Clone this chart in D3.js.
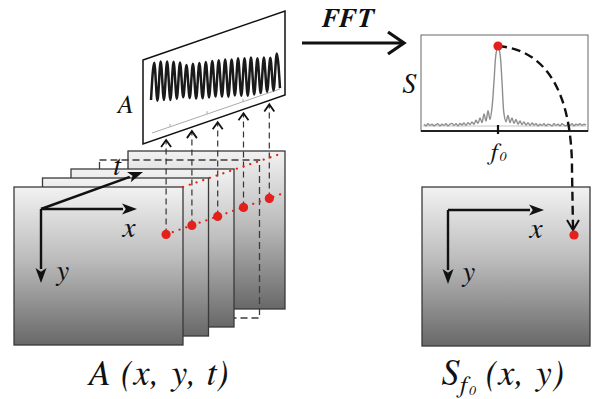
<!DOCTYPE html>
<html><head><meta charset="utf-8">
<script src="https://cdn.jsdelivr.net/npm/d3@7"></script>
<style>body{margin:0;background:#fff}svg{display:block}</style>
</head><body>
<script>
// ---------- data ----------
const frameIndex = [0, 1, 2, 3, 4];
const wavePeaks   = [0.95, 1.0, 0.98, 0.95, 0.9, 0.75, 0.8, 0.82, 0.85, 0.88, 0.9, 0.92, 0.9, 0.95, 0.93, 0.95, 0.9, 0.92, 0.88, 1.08];
const waveTroughs = [-0.95, -1.0, -0.98, -1.0, -0.95, -0.9, -0.95, -1.0, -1.0, -0.98, -0.95, -0.97, -1.0, -0.95, -0.98, -1.0, -0.95, -0.9, -0.85, -0.8];
const spectrum = [1,-1,1.5,-0.5,1,-1,0.5,1.5,-1,1,-0.5,1.5,-1,1,2,-0.5,1.5,-1,2,0,2.5,
  -0.5,3,0.5,4,1,6,2,9,3,14,5,18,7,22,55,90,100,90,55,14,4,12,3,9,2,7,1,5,0.5,4,0,3,-0.5,2.5,
  0,1.5,-1,1,-0.5,1.5,-1,1,0.5,-1,1.5,-0.5,1,-1,1.5,0,-1,1,-0.5,1.5,-1,1,0,1.5,-0.5,1,0];
const peakIndex = 37;
const axisLabels = ["x", "y", "t"];
const titleLeft = "A (x, y, t)";
const titleRight = ["S", "f", "0", " (x, y)"];
const fftLabel = "FFT";

// ---------- setup ----------
const W = 592, H = 399;
const FONT = '"FreeSerif","Liberation Serif","Times New Roman",serif';
const svg = d3.select("body").append("svg").attr("width", W).attr("height", H)
  .style("background", "#fff");
const defs = svg.append("defs");
const grad = defs.append("linearGradient").attr("id", "g").attr("x1", 0).attr("y1", 0).attr("x2", 0).attr("y2", 1);
grad.append("stop").attr("offset", 0).attr("stop-color", "#f2f2f2");
grad.append("stop").attr("offset", 0.45).attr("stop-color", "#bdbdbd");
grad.append("stop").attr("offset", 1).attr("stop-color", "#686868");

const RED = "#e3201b";

const fL = d3.scaleLinear([0, 4], [14, 128]);
const fR = d3.scaleLinear([0, 4], [183, 285]);
const fT = d3.scaleLinear([0, 4], [187, 151]);
const fB = d3.scaleLinear([0, 4], [345, 309]);

function arrowLine(g, x1, y1, x2, y2, sw, hl, hw) {
  const a = Math.atan2(y2 - y1, x2 - x1);
  const bx = x2 - hl * Math.cos(a), by = y2 - hl * Math.sin(a);
  g.append("line").attr("x1", x1).attr("y1", y1).attr("x2", bx + Math.cos(a)).attr("y2", by + Math.sin(a))
    .attr("stroke", "#111").attr("stroke-width", sw);
  const px = -Math.sin(a) * hw, py = Math.cos(a) * hw;
  g.append("path").attr("d", `M${x2},${y2}L${bx + px},${by + py}L${bx + hl*0.25*Math.cos(a)},${by + hl*0.25*Math.sin(a)}L${bx - px},${by - py}Z`)
    .attr("fill", "#111");
}
function label(g, x, y, txt, size, anchor) {
  return g.append("text").attr("x", x).attr("y", y)
    .style("font-family", FONT).style("font-style", "italic")
    .attr("font-size", size).attr("text-anchor", anchor || "middle").attr("fill", "#111").text(txt);
}

// ---------- frame stack ----------
const stack = svg.append("g");
frameIndex.slice().reverse().forEach(i => {
  const r = stack.append("rect").attr("x", fL(i)).attr("y", fT(i))
    .attr("width", fR(i) - fL(i)).attr("height", fB(i) - fT(i));
  if (i === 3) r.attr("fill", "none").attr("stroke", "#3c3c3c").attr("stroke-width", 1.3).attr("stroke-dasharray", "7,4");
  else r.attr("fill", "url(#g)").attr("stroke", "#3a3a3a").attr("stroke-width", 1.3);
});

const ax = svg.append("g");
arrowLine(ax, 41, 209, 137, 209, 2.4, 15, 5.5);
arrowLine(ax, 41, 209, 41, 283, 2.4, 15, 5.5);
arrowLine(ax, 41, 209, 143, 172, 2.4, 15, 5.5);
label(ax, 129, 237, axisLabels[0], 29);
label(ax, 62, 280, axisLabels[1], 29);
label(ax, 117, 175, axisLabels[2], 28);

// ---------- signal panel ----------
const panelPts = [[143, 60], [285, 11], [285, 95], [143, 144]];
const panelBottom = x => 144 - (x - 143) * (49 / 142);
svg.append("path").attr("d", d3.line()(panelPts) + "Z").attr("fill", "#fff")
  .attr("stroke", "#111").attr("stroke-width", 1.5);
label(svg, 125, 113, "A", 26);

svg.append("line").attr("x1", 152).attr("y1", 133).attr("x2", 280).attr("y2", 89)
  .attr("stroke", "#aaa").attr("stroke-width", 1);
[170, 207, 243].forEach(x => {
  const y = 133 - (x - 152) * (44 / 128);
  svg.append("line").attr("x1", x).attr("y1", y).attr("x2", x).attr("y2", y - 3).attr("stroke", "#aaa");
});

const waveVals = [];
wavePeaks.forEach((p, k) => { waveVals.push(waveTroughs[k]); waveVals.push(p); });
waveVals.push(-0.7);
const wx = d3.scaleLinear([0, waveVals.length - 1], [151, 280]);
const wy = d3.scaleLinear([-1, 1], [101, 62]);
const skew = x => -(x - 151) * (7 / 129);
svg.append("path").datum(waveVals)
  .attr("d", d3.line().x((d, i) => wx(i)).y((d, i) => wy(d) + skew(wx(i))).curve(d3.curveMonotoneX))
  .attr("fill", "none").attr("stroke", "#1a1a1a").attr("stroke-width", 2.5);

// ---------- red points & projection lines ----------
const dotX = i => fL(i) + 0.9 * (fR(i) - fL(i));
const dotY = i => fT(i) + 0.3 * (fB(i) - fT(i));
const ov = svg.append("g");
frameIndex.forEach(i => {
  const x = dotX(i), tip = panelBottom(x) + 4;
  ov.append("line").attr("x1", x).attr("y1", dotY(i)).attr("x2", x).attr("y2", tip + 1)
    .attr("stroke", "#333").attr("stroke-width", 1.2).attr("stroke-dasharray", "6,4");
  ov.append("path").attr("d", `M${x - 5},${tip + 7}L${x},${tip}L${x + 5},${tip + 7}`)
    .attr("fill", "none").attr("stroke", "#111").attr("stroke-width", 1.8);
});
ov.append("line").attr("x1", fR(0)).attr("y1", fT(0)).attr("x2", fR(4) - 2).attr("y2", fT(4) + 2)
  .attr("stroke", RED).attr("stroke-width", 2.2).attr("stroke-dasharray", "0.1,7").attr("stroke-linecap", "round");
ov.append("line").attr("x1", dotX(0)).attr("y1", dotY(0)).attr("x2", fR(4) - 2).attr("y2", dotY(4) - 5)
  .attr("stroke", RED).attr("stroke-width", 2.2).attr("stroke-dasharray", "0.1,7").attr("stroke-linecap", "round");
frameIndex.forEach(i => {
  ov.append("circle").attr("cx", dotX(i)).attr("cy", dotY(i)).attr("r", 4.6).attr("fill", RED);
});

// ---------- FFT arrow ----------
label(svg, 348, 27, fftLabel, 27).attr("font-weight", "bold").style("letter-spacing", "1.5px");
svg.append("line").attr("x1", 302).attr("y1", 43).attr("x2", 403).attr("y2", 43)
  .attr("stroke", "#111").attr("stroke-width", 3);
svg.append("path").attr("d", "M388,32L404,43L388,54").attr("fill", "none")
  .attr("stroke", "#111").attr("stroke-width", 3.2);

// ---------- spectrum panel ----------
svg.append("rect").attr("x", 421).attr("y", 35).attr("width", 167).attr("height", 96)
  .attr("fill", "#fff").attr("stroke", "#666").attr("stroke-width", 1);
svg.append("line").attr("x1", 421).attr("y1", 131).attr("x2", 588).attr("y2", 131)
  .attr("stroke", "#222").attr("stroke-width", 1.8);
svg.append("line").attr("x1", 423).attr("y1", 126).attr("x2", 586).attr("y2", 126)
  .attr("stroke", "#c4c4c4").attr("stroke-width", 1);
const sx = d3.scaleLinear([0, spectrum.length - 1], [424, 586]);
const sy = d3.scaleLinear([0, 100], [125, 46]);
svg.append("path").datum(spectrum)
  .attr("d", d3.line().x((d, i) => sx(i)).y(d => sy(d)).curve(d3.curveCatmullRom))
  .attr("fill", "none").attr("stroke", "#8e8e8e").attr("stroke-width", 1.4);
svg.append("line").attr("x1", sx(peakIndex)).attr("y1", 125).attr("x2", sx(peakIndex)).attr("y2", 134)
  .attr("stroke", "#111").attr("stroke-width", 2.2);
label(svg, 409, 93, "S", 28);
const f0 = svg.append("text").attr("x", 489).attr("y", 160).attr("fill", "#111")
  .style("font-family", FONT).style("font-style", "italic");
f0.append("tspan").attr("font-size", 25).text("f");
f0.append("tspan").attr("font-size", 14).attr("dy", 1).text("0");

// ---------- right frame ----------
svg.append("rect").attr("x", 422).attr("y", 187).attr("width", 168).attr("height", 159)
  .attr("fill", "url(#g)").attr("stroke", "#3a3a3a").attr("stroke-width", 1.3);
const ax2 = svg.append("g");
arrowLine(ax2, 448, 210, 544, 210, 2.4, 15, 5.5);
arrowLine(ax2, 448, 210, 448, 284, 2.4, 15, 5.5);
label(ax2, 536, 238, axisLabels[0], 29);
label(ax2, 468, 281, axisLabels[1], 29);

svg.append("path")
  .attr("d", `M${sx(peakIndex)},${sy(100)}C548,50 572,95 572,170L573,228`)
  .attr("fill", "none").attr("stroke", "#111").attr("stroke-width", 2.4).attr("stroke-dasharray", "9,5");
svg.append("path").attr("d", "M567,220L573,230L579,220").attr("fill", "none")
  .attr("stroke", "#111").attr("stroke-width", 2);
svg.append("circle").attr("cx", sx(peakIndex)).attr("cy", sy(100)).attr("r", 4.6).attr("fill", RED);
svg.append("circle").attr("cx", 574).attr("cy", 235).attr("r", 4.6).attr("fill", RED);

// ---------- titles ----------
svg.append("text").attr("x", 87).attr("y", 385).attr("fill", "#111")
  .style("font-family", FONT).style("font-style", "italic")
  .attr("font-size", 36).style("letter-spacing", "0.8px").text(titleLeft);
const tr = svg.append("text").attr("x", 442).attr("y", 385).attr("fill", "#111")
  .style("font-family", FONT).style("font-style", "italic");
tr.append("tspan").attr("font-size", 36).text(titleRight[0]);
tr.append("tspan").attr("font-size", 25).attr("dy", 8).text(titleRight[1]);
tr.append("tspan").attr("font-size", 14).attr("dy", 2).text(titleRight[2]);
tr.append("tspan").attr("font-size", 36).attr("dy", -10).style("letter-spacing", "0.8px").text(titleRight[3]);
</script>
</body></html>
